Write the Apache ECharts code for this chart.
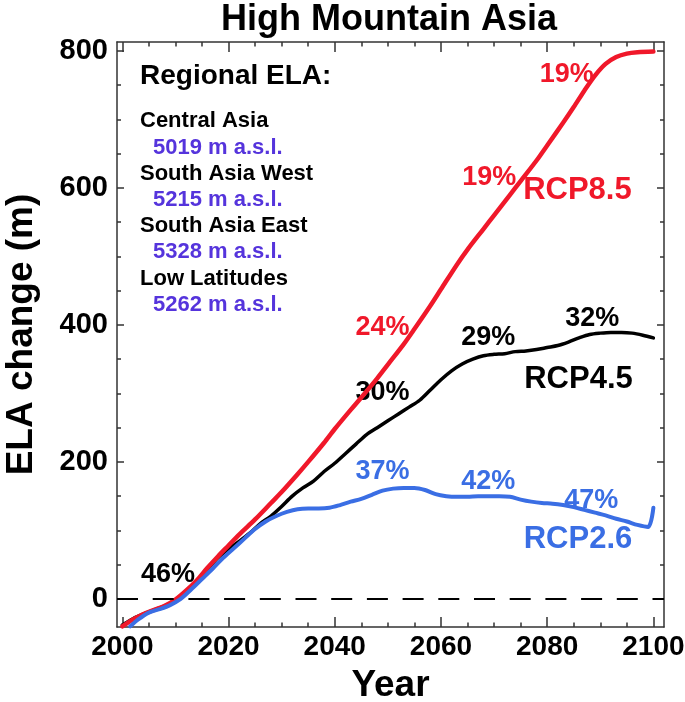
<!DOCTYPE html>
<html><head><meta charset="utf-8">
<script src="https://cdn.jsdelivr.net/npm/echarts@6/dist/echarts.min.js"></script>
<style>html,body{margin:0;padding:0;background:#fff}#c{width:685px;height:702px}</style>
</head><body><div id="c"></div>
<script>
// ---- data ----
const rcp85Years  = [2000,2002,2004,2006,2008,2010,2012,2014,2016,2018,2020,2022,2025,2028,2030,2033,2035,2038,2040,2043,2045,2048,2050,2053,2055,2058,2060,2063,2065,2068,2070,2073,2075,2078,2080,2083,2085,2087,2089,2091,2093,2095,2097,2100];
const rcp85Values = [-40,-30,-22,-16,-10,-1,12,27,45,62,78,94,116,140,156,182,200,228,248,276,294,322,342,372,394,428,452,488,510,540,560,590,610,640,662,695,718,742,764,781,791,796,798,799];

const rcp45Years  = [2000,2002,2004,2006,2008,2010,2012,2014,2016,2018,2020,2022,2024,2026,2028,2030,2032,2034,2036,2038,2040,2042,2044,2046,2048,2050,2052,2054,2056,2058,2060,2062,2064,2066,2068,2070,2072,2074,2076,2078,2080,2082,2084,2086,2088,2090,2092,2094,2096,2098,2100];
const rcp45Values = [-38,-29,-22,-16,-10,-2,11,26,43,60,73,84,96,110,121,135,150,162,172,186,198,212,226,240,250,260,270,280,290,305,320,333,343,350,355,357,358,361,362,364,367,370,375,381,386,388,389,389,388,385,381];

const rcp26Years  = [2001.5,2003,2005,2007,2009,2011,2013,2015,2017,2019,2021,2023,2025,2027,2029,2031,2033,2035,2037,2039,2041,2043,2045,2047,2049,2051,2053,2055,2057,2059,2061,2063,2065,2067,2069,2071,2073,2075,2077,2079,2081,2083,2085,2087,2089,2091,2093,2095,2097,2099,2100];
const rcp26Values = [-40,-30,-20,-15,-9,0,14,29,44,60,74,88,102,113,121,127,131,132,132,133,137,142,146,152,158,161,162,162,159,153,150,149,149,150,150,150,149,145,142,140,139,137,134,130,126,122,117,113,108,105,133];

const xTickLabels = [2000,2020,2040,2060,2080,2100];
const xMinorTicks = [2005,2010,2015,2025,2030,2035,2045,2050,2055,2065,2070,2075,2085,2090,2095];
const yTickLabels = [0,200,400,600,800];
const yMinorTicks = [50,100,150,250,300,350,450,500,550,650,700,750];

const regionNames = ['Central Asia','South Asia West','South Asia East','Low Latitudes'];
const regionELA   = [5019,5215,5328,5262];

const pct85Text = ['24%','19%','19%'];
const pct85Year = [2049,2069.1,2083.7];
const pct85Val  = [396,615,766];
const pct45Text = ['46%','30%','29%','32%'];
const pct45Year = [2008.6,2049,2068.9,2088.5];
const pct45Val  = [36,301,382,410];
const pct26Text = ['37%','42%','47%'];
const pct26Year = [2049,2068.9,2088.3];
const pct26Val  = [186,172,143];
const scenarioNames = ['RCP8.5','RCP4.5','RCP2.6'];
const scenarioYear  = [2085.7,2085.9,2085.8];
const scenarioVal   = [596,320,87];

// ---- style ----
const RED = '#f0182a', BLACK = '#000000', BLUE = '#3a6ee4', PURPLE = '#5534dc';
const FONT = '"Liberation Sans", Arial, Helvetica, sans-serif';
const FRAME = '#333333';
const X_MIN = 1999, X_MAX = 2102, Y_MIN = -41, Y_MAX = 813;

const zip = (a, b) => a.map((v, i) => [v, b[i]]);
const labelled = (ys, vs, ts) => ys.map((y, i) => ({value: [y, vs[i]], name: ts[i]}));
const plain = v => String(v);

function xAx(pos, ticks, len, labels, line) {
  return {
    type: 'value', gridIndex: 0, position: pos, min: X_MIN, max: X_MAX,
    axisLine: {show: line, onZero: false, lineStyle: {color: FRAME, width: 1.5}},
    axisTick: {show: true, inside: true, length: len, customValues: ticks, lineStyle: {color: FRAME, width: 1.5}},
    axisLabel: labels ? {show: true, customValues: labels, formatter: plain, margin: 6, fontSize: 28, fontWeight: 'bold', color: '#000', fontFamily: FONT} : {show: false},
    splitLine: {show: false}
  };
}
function yAx(pos, ticks, len, labels, line) {
  return {
    type: 'value', gridIndex: 0, position: pos, min: Y_MIN, max: Y_MAX,
    axisLine: {show: line, onZero: false, lineStyle: {color: FRAME, width: 1.5}},
    axisTick: {show: true, inside: true, length: len, customValues: ticks, lineStyle: {color: FRAME, width: 1.5}},
    axisLabel: labels ? {show: true, customValues: labels, formatter: plain, margin: 9, fontSize: 29, fontWeight: 'bold', color: '#000', fontFamily: FONT} : {show: false},
    splitLine: {show: false}
  };
}

const xAxes = [
  Object.assign(xAx('bottom', xTickLabels, 10, xTickLabels, true), {
    name: 'Year', nameLocation: 'middle', nameGap: 40,
    nameTextStyle: {fontSize: 37, fontWeight: 'bold', color: '#000', fontFamily: FONT}
  }),
  xAx('top', xTickLabels, 10, null, true),
  xAx('bottom', xMinorTicks, 4.5, null, false),
  xAx('top', xMinorTicks, 4.5, null, false)
];
const yAxes = [
  Object.assign(yAx('left', yTickLabels, 7, yTickLabels, true), {
    name: 'ELA change (m)', nameLocation: 'middle', nameGap: 77, nameRotate: 90,
    nameTextStyle: {fontSize: 37, fontWeight: 'bold', color: '#000', fontFamily: FONT}
  }),
  yAx('right', yTickLabels, 7, null, true),
  yAx('left', yMinorTicks, 4, null, false),
  yAx('right', yMinorTicks, 4, null, false)
];

function lineSeries(name, data, color, width, z, extra) {
  return Object.assign({
    name, type: 'line', data, xAxisIndex: 0, yAxisIndex: 0, smooth: 0.3,
    showSymbol: false, symbol: 'none', z, silent: true,
    lineStyle: {color, width, cap: 'round', join: 'round', opacity: 1}
  }, extra || {});
}
function labelSeries(data, color, size) {
  return {
    type: 'scatter', data, xAxisIndex: 0, yAxisIndex: 0, symbolSize: 0, z: 1, silent: true,
    itemStyle: {opacity: 1},
    label: {show: true, position: 'inside', formatter: p => p.data.name, color, opacity: 1,
            fontSize: size, fontWeight: 'bold', fontFamily: FONT}
  };
}

// legend text block (plain text)
const legendLines = [];
legendLines.push({text: 'Regional ELA:', size: 28, color: '#000', indent: 0});
regionNames.forEach((n, i) => {
  legendLines.push({text: n, size: 22, color: '#000', indent: 0});
  legendLines.push({text: regionELA[i] + ' m a.s.l.', size: 22, color: PURPLE, indent: 13});
});
const graphics = [{
  type: 'text', x: 389, y: 20, silent: true,
  style: {text: 'High Mountain Asia', fill: '#000', font: 'bold 36px ' + FONT, align: 'center', verticalAlign: 'middle'}
}];
legendLines.forEach((l, i) => {
  const baseline = i === 0 ? 86.7 : 129.3 + (i - 1) * 26.2;
  graphics.push({
    type: 'text', x: 140 + l.indent, y: baseline - 0.36 * l.size, silent: true,
    style: {text: l.text, fill: l.color, font: 'bold ' + l.size + 'px ' + FONT, align: 'left', verticalAlign: 'middle'}
  });
});

const chart = echarts.init(document.getElementById('c'), null, {renderer: 'canvas'});
chart.setOption({
  animation: false,
  backgroundColor: '#fff',
  grid: {left: 117, right: 21, top: 42, bottom: 75, containLabel: false, outerBoundsMode: 'none'},
  xAxis: xAxes,
  yAxis: yAxes,
  graphic: graphics,
  series: [
    lineSeries('RCP4.5', zip(rcp45Years, rcp45Values), BLACK, 3.5, 3, {
      markLine: {silent: true, symbol: 'none', label: {show: false},
        lineStyle: {color: '#000', width: 2, type: [21, 14.7], opacity: 1}, data: [{yAxis: 0}]}
    }),
    lineSeries('RCP8.5', zip(rcp85Years, rcp85Values), RED, 4.5, 4),
    lineSeries('RCP2.6', zip(rcp26Years, rcp26Values), BLUE, 4, 5),
    labelSeries(labelled(pct85Year, pct85Val, pct85Text), RED, 27),
    labelSeries(labelled(pct45Year, pct45Val, pct45Text), BLACK, 27),
    labelSeries(labelled(pct26Year, pct26Val, pct26Text), BLUE, 27),
    labelSeries([
      {value: [scenarioYear[0], scenarioVal[0]], name: scenarioNames[0], label: {color: RED}},
      {value: [scenarioYear[1], scenarioVal[1]], name: scenarioNames[1], label: {color: BLACK}},
      {value: [scenarioYear[2], scenarioVal[2]], name: scenarioNames[2], label: {color: BLUE}}
    ], BLACK, 31)
  ]
});
</script>
</body></html>
